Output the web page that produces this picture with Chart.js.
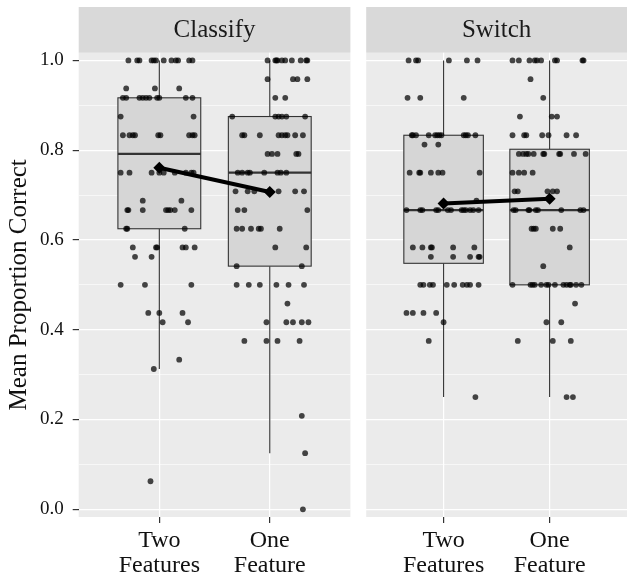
<!DOCTYPE html>
<html>
<head>
<meta charset="utf-8">
<script src="https://cdn.jsdelivr.net/npm/chart.js@4.4.0/dist/chart.umd.min.js"></script>
<style>
  html, body { margin: 0; padding: 0; background: #fff; }
  #wrap { position: relative; width: 633px; height: 579px; }
  #wrap canvas { position: absolute; left: 0; top: 0; }
</style>
</head>
<body>
<div id="wrap">
  <canvas id="classify" width="633" height="579"></canvas>
  <canvas id="switch" width="633" height="579"></canvas>
</div>
<script>
// Data
const categories = [['Two', 'Features'], ['One', 'Feature']];
const yTicks = [0, 0.1, 0.2, 0.3, 0.4, 0.5, 0.6, 0.7, 0.8, 0.9, 1.0];
const yTickLabels = ['0.0', '', '0.2', '', '0.4', '', '0.6', '', '0.8', '', '1.0'];

// box stats per category: [lower whisker, Q1, median, Q3, upper whisker]
const classifyBoxes = [[0.3125, 0.625, 0.7917, 0.9167, 1], [0.125, 0.5417, 0.75, 0.875, 1]];
const switchBoxes = [[0.25, 0.548, 0.6667, 0.8333, 1], [0.25, 0.5, 0.6667, 0.8021, 1]];

const classifyMeans = [0.761, 0.707];
const switchMeans = [0.681, 0.692];

// jittered points: [y value, [x offsets from category centre]]
const classifyTwoRows = [
  [1, [-0.28, -0.20, -0.18, -0.07, -0.05, -0.03, 0.04, 0.11, 0.15, 0.17, 0.27, 0.30]],
  [0.9375, [-0.30, -0.04, 0.18]],
  [0.9167, [-0.33, -0.30, -0.18, -0.15, -0.12, -0.09, -0.02, 0.00, 0.24, 0.30]],
  [0.875, [-0.35, 0.31]],
  [0.8333, [-0.33, -0.27, -0.24, -0.22, -0.01, 0.01, 0.27, 0.30, 0.32]],
  [0.75, [-0.35, -0.27, -0.07, 0.00, 0.04, 0.14, 0.24, 0.29, 0.31]],
  [0.6875, [-0.15, 0.20]],
  [0.6667, [-0.29, -0.28, -0.15, 0.06, 0.08, 0.10, 0.14, 0.29]],
  [0.625, [-0.30, -0.29, 0.23]],
  [0.5833, [-0.24, -0.03, -0.02, 0.21, 0.24, 0.32]],
  [0.5625, [-0.22, -0.07]],
  [0.5, [-0.35, -0.13, 0.29]],
  [0.4375, [-0.10, 0.00, 0.21]],
  [0.4167, [0.03, 0.26]],
  [0.3333, [0.18]],
  [0.3125, [-0.05]],
  [0.0625, [-0.08]]
];
const classifyOneRows = [
  [1, [-0.02, 0.05, 0.06, 0.07, 0.11, 0.14, 0.20, 0.28, 0.33, 0.34]],
  [0.9583, [-0.02, 0.21, 0.25, 0.34]],
  [0.9167, [0.05, 0.14]],
  [0.875, [-0.34, 0.05, 0.08, 0.11, 0.15, 0.32]],
  [0.8333, [-0.25, -0.23, -0.09, 0.08, 0.11, 0.14, 0.16, 0.23, 0.30]],
  [0.7917, [-0.02, 0.02, 0.07, 0.24, 0.26]],
  [0.75, [-0.29, -0.25, -0.20, -0.18, -0.05, 0.07, 0.10, 0.15]],
  [0.7083, [-0.31, -0.20, -0.14, 0.08, 0.23, 0.31]],
  [0.6667, [-0.29, -0.23, 0.34]],
  [0.625, [-0.30, -0.25, -0.17, -0.10, -0.08, 0.09]],
  [0.5833, [0.05, 0.33]],
  [0.5417, [-0.30, 0.29]],
  [0.5, [-0.30, -0.19, -0.09, 0.06, 0.17, 0.31]],
  [0.4583, [0.16]],
  [0.4167, [-0.03, 0.15, 0.21, 0.29, 0.35]],
  [0.375, [-0.23, -0.03, 0.07, 0.27]],
  [0.2083, [0.29]],
  [0.125, [0.32]],
  [0, [0.30]]
];
const switchTwoRows = [
  [1, [-0.33, -0.26, -0.24, 0.05, 0.22, 0.32]],
  [0.9167, [-0.34, -0.22, 0.19]],
  [0.8333, [-0.30, -0.29, -0.26, -0.14, -0.08, -0.06, -0.04, -0.02, 0.19, 0.21, 0.23, 0.30]],
  [0.8125, [-0.18, -0.05]],
  [0.75, [-0.32, -0.23, -0.22, -0.12, -0.05, -0.01, 0.34]],
  [0.6875, [0.31]],
  [0.6667, [-0.35, -0.22, -0.20, -0.07, -0.05, 0.04, 0.07, 0.17, 0.19, 0.21, 0.25, 0.28, 0.33]],
  [0.5833, [-0.29, -0.20, -0.12, -0.11, 0.09, 0.29]],
  [0.5625, [-0.12, 0.09, 0.25, 0.33, 0.34]],
  [0.5, [-0.22, -0.19, -0.13, -0.10, 0.03, 0.10, 0.18, 0.22, 0.25, 0.33]],
  [0.4375, [-0.35, -0.29, -0.19, -0.07]],
  [0.4167, [0.00]],
  [0.375, [-0.14]],
  [0.25, [0.30]]
];
const switchOneRows = [
  [1, [-0.35, -0.29, -0.19, -0.14, -0.12, -0.08, 0.05, 0.07, 0.31, 0.32]],
  [0.9583, [-0.18]],
  [0.9167, [-0.06]],
  [0.875, [-0.28, 0.02, 0.07]],
  [0.8333, [-0.35, -0.24, -0.22, -0.07, -0.01, 0.16, 0.25]],
  [0.7917, [-0.29, -0.25, -0.22, -0.20, -0.15, -0.06, -0.05, 0.09, 0.10, 0.23, 0.34]],
  [0.75, [-0.35, -0.29, -0.24, -0.16]],
  [0.7083, [-0.33, -0.30, -0.02, 0.03, 0.07]],
  [0.6667, [-0.34, -0.32, -0.20, -0.19, -0.13, -0.11, 0.11, 0.29, 0.32]],
  [0.625, [-0.17, -0.15, -0.13, 0.03, 0.10]],
  [0.5833, [0.19]],
  [0.5417, [-0.06]],
  [0.5, [-0.35, -0.18, -0.16, -0.14, -0.08, -0.03, -0.01, 0.05, 0.13, 0.16, 0.19, 0.20, 0.25, 0.30]],
  [0.4583, [0.24]],
  [0.4167, [-0.03, 0.11]],
  [0.375, [-0.30, 0.03, 0.20]],
  [0.25, [0.16, 0.22]]
];

Chart.defaults.font.family = '"Liberation Serif", "DejaVu Serif", serif';
Chart.defaults.color = '#111';

function toPoints(rows, cat) {
  const out = [];
  rows.forEach(([y, offsets]) => offsets.forEach(dx => out.push({ x: cat + dx, y: y })));
  return out;
}

const isMajor = v => Math.round(v * 10) % 2 === 0;

// panel background, strip and boxplots
const panelDecor = {
  id: 'panelDecor',
  beforeDraw(chart, args, opts) {
    const { ctx, chartArea: a } = chart;
    ctx.save();
    ctx.fillStyle = '#EBEBEB';
    ctx.fillRect(a.left, a.top, a.right - a.left, a.bottom - a.top);
    ctx.fillStyle = '#D9D9D9';
    ctx.fillRect(a.left, 7, a.right - a.left, a.top - 7);
    ctx.fillStyle = '#1A1A1A';
    ctx.font = '25px "Liberation Serif"';
    ctx.textAlign = 'center';
    ctx.textBaseline = 'middle';
    ctx.fillText(opts.title, (a.left + a.right) / 2, (7 + a.top) / 2 + 1);
    ctx.restore();
  },
  beforeDatasetsDraw(chart, args, opts) {
    const { ctx, scales: { x, y } } = chart;
    ctx.save();
    opts.boxes.forEach((b, i) => {
      const c = i + 1;
      const cx = x.getPixelForValue(c);
      const l = x.getPixelForValue(c - 0.375);
      const r = x.getPixelForValue(c + 0.375);
      const [lo, q1, med, q3, hi] = b.map(v => y.getPixelForValue(v));
      ctx.strokeStyle = '#333';
      ctx.lineWidth = 1.1;
      ctx.beginPath();
      ctx.moveTo(cx, hi); ctx.lineTo(cx, q3);
      ctx.moveTo(cx, q1); ctx.lineTo(cx, lo);
      ctx.stroke();
      ctx.fillStyle = '#D6D6D6';
      ctx.fillRect(l, q3, r - l, q1 - q3);
      ctx.strokeRect(l, q3, r - l, q1 - q3);
      ctx.lineWidth = 2.2;
      ctx.beginPath();
      ctx.moveTo(l, med); ctx.lineTo(r, med);
      ctx.stroke();
    });
    ctx.restore();
  }
};

function makePanel(id, title, boxes, means, twoRows, oneRows, first) {
  const points = toPoints(twoRows, 1).concat(toPoints(oneRows, 2));
  return new Chart(document.getElementById(id), {
    type: 'scatter',
    data: {
      datasets: [{
        type: 'line',
        data: means.map((m, i) => ({ x: i + 1, y: m })),
        borderColor: '#000',
        borderWidth: 4,
        pointStyle: 'rectRot',
        pointRadius: 6,
        pointBackgroundColor: '#000',
        pointBorderWidth: 0,
        order: 0
      }, {
        data: points,
        pointRadius: 2.9,
        backgroundColor: 'rgba(0, 0, 0, 0.72)',
        borderWidth: 0,
        order: 1
      }]
    },
    options: {
      responsive: false,
      animation: false,
      events: [],
      layout: { padding: { top: 52.7, right: first ? 282.6 : 1, left: 0, bottom: 0 } },
      plugins: {
        legend: { display: false },
        tooltip: { enabled: false },
        panelDecor: { title: title, boxes: boxes }
      },
      scales: {
        x: {
          type: 'linear',
          min: 0.27,
          max: 2.73,
          afterBuildTicks: s => { s.ticks = [{ value: 1 }, { value: 2 }]; },
          afterFit: s => { s.height = 62; },
          ticks: {
            callback: (v, i) => categories[i],
            font: { size: 24, lineHeight: 1.05 },
            color: '#111',
            padding: 5,
            maxRotation: 0,
            autoSkip: false
          },
          grid: { color: '#fff', lineWidth: 1.2, tickColor: '#333', tickLength: 6, tickWidth: 1.2 },
          border: { display: false }
        },
        y: {
          min: -0.0172,
          max: 1.0172,
          afterBuildTicks: s => { s.ticks = yTicks.map(v => ({ value: v })); },
          afterFit: s => { s.width = first ? 78.7 : 366.2; },
          ticks: {
            display: first,
            callback: (v, i) => yTickLabels[i],
            font: { size: 19 },
            color: '#111',
            padding: 9,
            autoSkip: false
          },
          grid: {
            color: '#fff',
            lineWidth: ctx => isMajor(ctx.tick.value) ? 1.2 : 0.6,
            tickColor: ctx => isMajor(ctx.tick.value) ? '#333' : 'rgba(0,0,0,0)',
            tickLength: 6,
            tickWidth: 1.2,
            drawTicks: first
          },
          border: { display: false },
          title: {
            display: first,
            text: 'Mean Proportion Correct',
            font: { size: 25 },
            color: '#111',
            padding: { top: 4, bottom: 0 }
          }
        }
      }
    },
    plugins: [panelDecor]
  });
}

makePanel('classify', 'Classify', classifyBoxes, classifyMeans, classifyTwoRows, classifyOneRows, true);
makePanel('switch', 'Switch', switchBoxes, switchMeans, switchTwoRows, switchOneRows, false);
</script>
</body>
</html>
